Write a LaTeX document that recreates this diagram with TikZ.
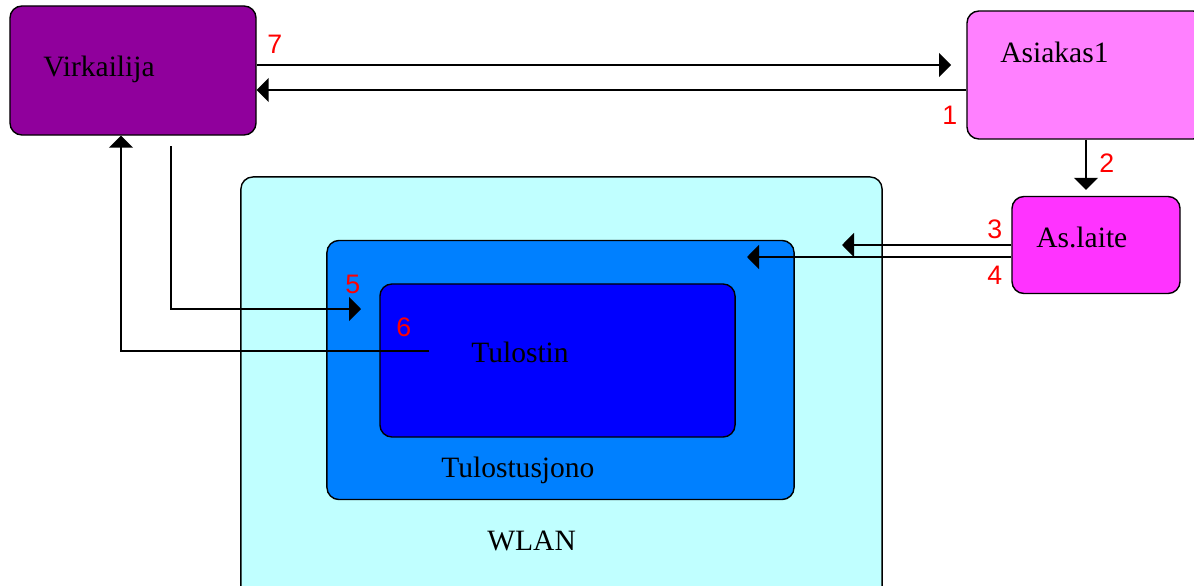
\documentclass[tikz,border=0pt]{standalone}
\usepackage{fontspec}
\setmainfont{Liberation Serif}
\newfontfamily\numfont{Liberation Sans}
\usepackage{xcolor}
\usepackage{tikz}
\usetikzlibrary{positioning, arrows.meta, calc}

\definecolor{virkcol}{RGB}{144,0,156}
\definecolor{asiakascol}{RGB}{255,128,255}
\definecolor{laitecol}{RGB}{255,51,255}
\definecolor{wlancol}{RGB}{192,255,255}
\definecolor{jonocol}{RGB}{0,128,255}
\definecolor{tulostincol}{RGB}{0,0,255}

\begin{document}
\begin{tikzpicture}[
    x=0.025cm, y=-0.025cm,
    box/.style={rectangle, draw=black, line width=1pt, rounded corners=0.3cm, fill=#1},
    lbl/.style={anchor=base west, inner sep=0pt, font=\fontsize{21}{25}\selectfont},
    num/.style={anchor=base west, inner sep=0pt, text=red, font=\numfont\fontsize{19}{23}\selectfont},
    arr/.style={-{Triangle[length=0.3cm, width=0.6cm]}, line width=1.2pt},
]

\clip (0,0) rectangle (1194,585);

\node[box=virkcol, minimum width=6.15cm, minimum height=3.225cm] (virk) at (133,70.5) {};
\node[box=asiakascol, minimum width=5.95cm, minimum height=3.2cm] (asiakas) at (1086,75) {};
\node[box=laitecol, minimum width=4.2cm, minimum height=2.425cm] (laite) at (1096,245) {};
\node[box=wlancol, minimum width=16.025cm, minimum height=10.65cm] (wlan) at (561.5,390) {};
\node[box=jonocol, minimum width=11.675cm, minimum height=6.475cm] (jono) at (560.5,370) {};
\node[box=tulostincol, minimum width=8.875cm, minimum height=3.825cm] (tulostin) at (557.5,360.5) {};

\node[lbl] (virktext) at (43,76) {Virkailija};
\node[lbl] (asiakastext) at (1000,62) {Asiakas1};
\node[lbl] (laitetext) at (1036,247) {As.laite};
\node[lbl] (tulostintext) at (471,362) {Tulostin};
\node[lbl] (jonotext) at (441,477) {Tulostusjono};
\node[lbl] (wlantext) at (487,550) {WLAN};

\coordinate (tip7) at (951,65);
\coordinate (tip3) at (842,245);
\coordinate (tip4) at (747,257);
\coordinate (tip5) at (361,309);
\coordinate (start5) at (171,146);
\coordinate (start6) at (429,351);

\draw[arr] (virk.east |- tip7) -- (tip7);
\draw[arr] (asiakas.west |- 0,90) -- (virk.east |- 0,90);
\draw[arr, shorten >=0.15cm] (asiakas.south) -- (asiakas.south |- laite.north);
\draw[arr] (laite.west) -- (tip3);
\draw[arr] (laite.west |- tip4) -- (tip4);
\draw[arr] (start5) |- (tip5);
\draw[arr] (start6) -| ($(virk.south)+(-12,0)$);

\node[num] (n7) at (267,53) {7};
\node[num] (n1) at (942,124) {1};
\node[num] (n2) at (1099,172) {2};
\node[num] (n3) at (987,238) {3};
\node[num] (n4) at (987,284) {4};
\node[num] (n5) at (345,293) {5};
\node[num] (n6) at (396,336) {6};

\end{tikzpicture}
\end{document}
